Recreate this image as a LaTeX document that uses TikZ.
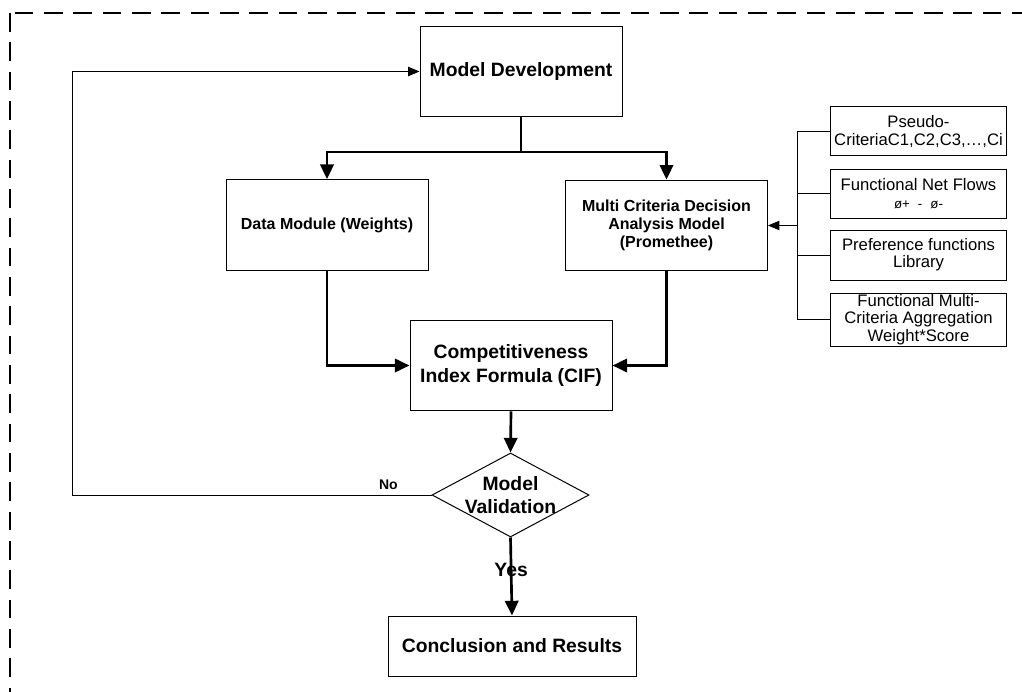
\documentclass[tikz,border=0pt]{standalone}
\usepackage{fontspec}
\setmainfont{Liberation Sans}
\usetikzlibrary{arrows.meta,shapes.geometric}

\begin{document}
\begin{tikzpicture}[x=0.75pt,y=-0.75pt]
% Constants
\def\boxWidth{151.5pt} % Width of the main boxes
\def\boxHeight{68pt} % Height of the main boxes
\def\critWidth{132pt} % Width of the criteria boxes
\def\spineX{797} % x of the line joining the criteria boxes
\def\loopX{72} % x of the "No" return line

\tikzset{
    mainbox/.style={rectangle, draw, line width=0.75pt, minimum width=\boxWidth, minimum height=\boxHeight, align=center, font=\bfseries\fontsize{14.5}{17.25}\selectfont},
    subbox/.style={mainbox, font=\bfseries\fontsize{12}{13.5}\selectfont},
    critbox/.style={rectangle, draw, line width=0.75pt, minimum width=\critWidth, inner sep=0pt, align=center, font=\fontsize{12.5}{13}\selectfont},
    flow/.style={line width=2pt, -{Triangle[length=11pt,width=10pt]}},
    link/.style={line width=0.75pt},
    tip/.style={link, -{Triangle[length=8.5pt,width=7pt]}}
}

\useasboundingbox (0,0) rectangle (1022,692);
\clip (0,0) rectangle (1022,692);

% Dashed frame, running off the page at the right and bottom
\draw[line width=2pt, dash pattern=on 14pt off 8pt] (10,13) rectangle (1060,720);

% Main boxes
\node[mainbox] (dev) at (521,71.5) {Model Development};
\node[subbox] (data) at (327,225) {Data Module (Weights)};
\node[subbox] (mcda) at (666.5,225.5) {Multi Criteria Decision\\Analysis Model\\(Promethee)};
\node[mainbox] (cif) at (511,365.5) {Competitiveness\\Index Formula (CIF)};
\node[diamond, draw, line width=0.75pt, minimum width=117.75pt, minimum height=63pt, inner sep=0pt,
      label={[font=\bfseries\fontsize{14.5}{17.25}\selectfont, align=center]center:Model\\Validation}] (valid) at (510.5,495) {};
\node[mainbox, minimum width=186pt, minimum height=45pt] (concl) at (512,646) {Conclusion and Results};

% Criteria boxes on the right
\foreach \i/\y/\h/\txt in {1/131.5/36.75pt/{Pseudo-\\CriteriaC1,C2,C3,…,Ci},
                           2/193.5/36.75pt/{Functional Net Flows\\{\fontsize{10}{11}\selectfont ø+\hspace{0.6em}-\hspace{0.6em}ø-}},
                           3/255/37.5pt/{Preference functions\\Library},
                           4/319.5/39.75pt/{Functional Multi-\\Criteria Aggregation\\Weight*Score}} {
    \node[critbox, minimum height=\h] (crit-\i) at (918.5,\y) {\txt};
}

% Main flow
\coordinate (split) at (521,152);
\draw[flow] (dev.south) -- (split) -| (data.north);
\draw[flow] (split) -| (mcda.north);
\draw[flow] (data.south) |- (cif.west);
\draw[flow] (mcda.south) |- (cif.east);
\draw[flow] (cif.south) -- (valid.north);
\draw[flow] (valid.south) -- node[pos=0.42, font=\bfseries\fontsize{14.5}{17.25}\selectfont] {Yes} (concl.north);

% Return line when validation fails
\coordinate (back) at (\loopX,0);
\draw[tip] (valid.west) -- node[pos=0.12, above, font=\bfseries\fontsize{10.5}{12}\selectfont] {No} (valid.west -| back) |- (dev.west);

% Criteria feeding the decision model
\coordinate (spine) at (\spineX,225.5);
\foreach \i in {1,...,4} {
    \draw[link] (crit-\i.west) -- (crit-\i.west -| spine);
}
\draw[link] (crit-1.west -| spine) -- (crit-4.west -| spine);
\draw[tip] (spine) -- (mcda.east);

\end{tikzpicture}
\end{document}
